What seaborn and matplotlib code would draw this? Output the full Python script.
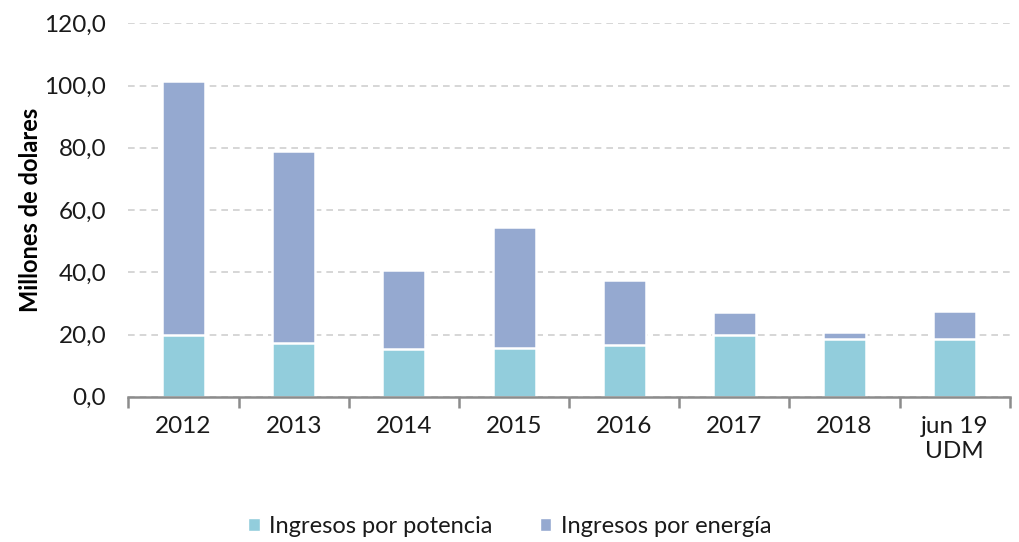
import numpy as np
import pandas as pd
import matplotlib
matplotlib.use("Agg")
import matplotlib.pyplot as plt
from matplotlib.ticker import FuncFormatter, FixedLocator
from matplotlib.patches import Patch
import seaborn as sns

# --- DATOS ---
periodos = ["2012", "2013", "2014", "2015", "2016", "2017", "2018", "jun 19\nUDM"]
ingresos_potencia = [20.0, 17.3, 15.2, 15.8, 16.6, 19.9, 18.4, 18.4]
ingresos_energia = [81.5, 61.8, 25.4, 38.6, 21.0, 7.2, 2.3, 9.2]

COLOR_POT = "#92CDDC"
COLOR_ENE = "#95A9D0"

sns.set_theme(style="white")
plt.rcParams["font.family"] = ["Lato", "DejaVu Sans"]

df = pd.DataFrame({
    "periodo": periodos,
    "potencia": ingresos_potencia,
    "energia": ingresos_energia,
})
df["total"] = df["potencia"] + df["energia"]

fig, ax = plt.subplots(figsize=(10.19, 5.42), dpi=100)
fig.subplots_adjust(left=0.126, right=0.991, bottom=0.268, top=0.957)

# grid detras de las barras
ax.set_axisbelow(True)
ax.yaxis.grid(True, linestyle=(0, (4, 3)), color="#D0D0D0", linewidth=1.2)

# barras apiladas: total (energia arriba) y luego potencia encima
sns.barplot(data=df, x="periodo", y="total", color=COLOR_ENE, width=0.39,
            edgecolor="white", linewidth=1.8, saturation=1, ax=ax)
sns.barplot(data=df, x="periodo", y="potencia", color=COLOR_POT, width=0.39,
            edgecolor="white", linewidth=1.8, saturation=1, ax=ax)

ax.set_ylim(0, 120)
ax.set_xlim(-0.5, len(periodos) - 0.5)
ax.set_yticks(np.arange(0, 121, 20))
ax.yaxis.set_major_formatter(FuncFormatter(lambda v, p: f"{v:.1f}".replace(".", ",")))

ax.set_xlabel("")
ax.set_ylabel("Millones de dolares", fontsize=17, fontweight="bold", color="#000000", labelpad=8)
ax.yaxis.set_label_coords(-0.098, 0.5)

for s in ["top", "right", "left"]:
    ax.spines[s].set_visible(False)
ax.spines["bottom"].set_color("#8C8C8C")
ax.spines["bottom"].set_linewidth(1.8)

ax.xaxis.set_minor_locator(FixedLocator(np.arange(-0.5, len(periodos), 1.0)))
ax.tick_params(axis="x", which="major", bottom=True, length=0, pad=14, labelsize=17.5, labelcolor="#1A1A1A")
ax.tick_params(axis="x", which="minor", bottom=True, length=8, width=1.8, color="#8C8C8C", direction="out")
ax.tick_params(axis="y", length=0, pad=16, labelsize=17.5, labelcolor="#1A1A1A")

handles = [Patch(facecolor=COLOR_POT, label="Ingresos por potencia"),
           Patch(facecolor=COLOR_ENE, label="Ingresos por energía")]
fig.legend(handles=handles, loc="lower center", bbox_to_anchor=(0.5, -0.03), ncol=2,
           frameon=False, fontsize=17, handlelength=0.5, handleheight=0.5,
           handletextpad=0.4, columnspacing=2.0, labelcolor="#1A1A1A")

fig.savefig("out.png", dpi=100)
